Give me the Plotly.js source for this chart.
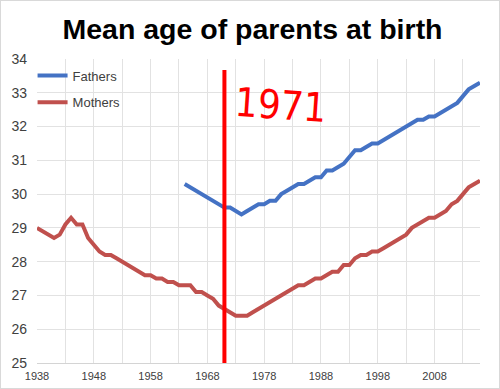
<!DOCTYPE html>
<html><head><meta charset="utf-8">
<script src="https://cdn.plot.ly/plotly-3.0.1.min.js"></script>
<style>
html,body{margin:0;padding:0;background:#fff}
#wrap{position:relative;width:500px;height:389px}
#chart{width:500px;height:389px}
#frame{position:absolute;left:0;top:0;width:500px;height:389px;box-sizing:border-box;border:1px solid #d9d9d9;pointer-events:none}
</style>
</head><body><div id="wrap"><div id="chart"></div><div id="frame"></div></div>
<script>
const motherYears = [1938,1939,1940,1941,1942,1943,1944,1945,1946,1947,
  1948,1949,1950,1951,1952,1953,1954,1955,1956,1957,
  1958,1959,1960,1961,1962,1963,1964,1965,1966,1967,
  1968,1969,1970,1971,1972,1973,1974,1975,1976,1977,
  1978,1979,1980,1981,1982,1983,1984,1985,1986,1987,
  1988,1989,1990,1991,1992,1993,1994,1995,1996,1997,
  1998,1999,2000,2001,2002,2003,2004,2005,2006,2007,
  2008,2009,2010,2011,2012,2013,2014,2015,2016];
const mothers = [29.0,28.9,28.8,28.7,28.8,29.1,29.3,29.1,29.1,28.7,
  28.5,28.3,28.2,28.2,28.1,28.0,27.9,27.8,27.7,27.6,
  27.6,27.5,27.5,27.4,27.4,27.3,27.3,27.3,27.1,27.1,
  27.0,26.9,26.7,26.6,26.5,26.4,26.4,26.4,26.5,26.6,
  26.7,26.8,26.9,27.0,27.1,27.2,27.3,27.3,27.4,27.5,
  27.5,27.6,27.7,27.7,27.9,27.9,28.1,28.2,28.2,28.3,
  28.3,28.4,28.5,28.6,28.7,28.8,29.0,29.1,29.2,29.3,
  29.3,29.4,29.5,29.7,29.8,30.0,30.2,30.3,30.4];
const fatherYears = [1964,1965,1966,1967,1968,1969,1970,1971,1972,1973,
  1974,1975,1976,1977,1978,1979,1980,1981,1982,1983,
  1984,1985,1986,1987,1988,1989,1990,1991,1992,1993,
  1994,1995,1996,1997,1998,1999,2000,2001,2002,2003,
  2004,2005,2006,2007,2008,2009,2010,2011,2012,2013,
  2014,2015,2016];
const fathers = [30.3,30.2,30.1,30.0,29.9,29.8,29.7,29.6,29.6,29.5,
  29.4,29.5,29.6,29.7,29.7,29.8,29.8,30.0,30.1,30.2,
  30.3,30.3,30.4,30.5,30.5,30.7,30.7,30.8,30.9,31.1,
  31.3,31.3,31.4,31.5,31.5,31.6,31.7,31.8,31.9,32.0,
  32.1,32.2,32.2,32.3,32.3,32.4,32.5,32.6,32.7,32.9,
  33.1,33.2,33.3];
const xTickVals = [1938,1943,1948,1953,1958,1963,1968,1973,1978,1983,1988,1993,1998,2003,2008,2013];
const xTickText = ['1938','','1948','','1958','','1968','','1978','','1988','','1998','','2008',''];
const yTickVals = [25,26,27,28,29,30,31,32,33,34];
const markYear = 1971;
const markLabel = '1971';

const FONT = 'Liberation Sans, Arial, sans-serif';
const grid = '#e2e2e2';

const traces = [
  {x: fatherYears, y: fathers, name: 'Fathers', type: 'scatter', mode: 'lines',
   legendgroup: 'f', line: {color: '#4472C4', width: 4}},
  {x: motherYears, y: mothers, name: 'Mothers', type: 'scatter', mode: 'lines',
   legendgroup: 'm', line: {color: '#C0504D', width: 4}}
];

const layout = {
  width: 500, height: 389,
  margin: {l: 37, r: 20, t: 59, b: 26},
  paper_bgcolor: '#fff', plot_bgcolor: '#fff',
  title: {text: '<b>Mean age of parents at birth</b>', font: {family: FONT, size: 28.5, color: '#000'},
          x: 0.505, xref: 'container', y: 0.925, yref: 'container', yanchor: 'middle'},
  xaxis: {range: [1938, 2016], tickmode: 'array', tickvals: xTickVals, ticktext: xTickText,
          showgrid: true, gridcolor: grid, gridwidth: 1, zeroline: false,
          showline: true, linecolor: '#d4d4d4', linewidth: 1, ticks: '',
          tickfont: {family: FONT, size: 11, color: '#404040'}, ticklabelstandoff: 3},
  yaxis: {range: [25, 34], tickmode: 'array', tickvals: yTickVals,
          showgrid: true, gridcolor: grid, gridwidth: 1, zeroline: false, ticks: '',
          tickfont: {family: FONT, size: 14, color: '#404040'}, ticklabelstandoff: 9},
  showlegend: true,
  legend: {x: -0.01, y: 0.995, xanchor: 'left', yanchor: 'top', bgcolor: 'rgba(0,0,0,0)',
           font: {family: FONT, size: 13, color: '#404040'}, traceorder: 'grouped', tracegroupgap: 7},
  shapes: [
    {type: 'line', xref: 'x', yref: 'paper', x0: markYear, x1: markYear, y0: 0, y1: 0.964,
     line: {color: '#ff0000', width: 4}}
  ],
  annotations: [
    {text: markLabel, xref: 'paper', yref: 'paper', x: 0.55, y: 0.85, showarrow: false,
     xanchor: 'center', yanchor: 'middle', textangle: 4,
     font: {family: 'Liberation Sans Narrow, DejaVu Sans Condensed, Arial Narrow, sans-serif', size: 40, color: '#ff0000'}}
  ]
};

Plotly.newPlot('chart', traces, layout, {displayModeBar: false, staticPlot: true});
</script>
</body></html>
